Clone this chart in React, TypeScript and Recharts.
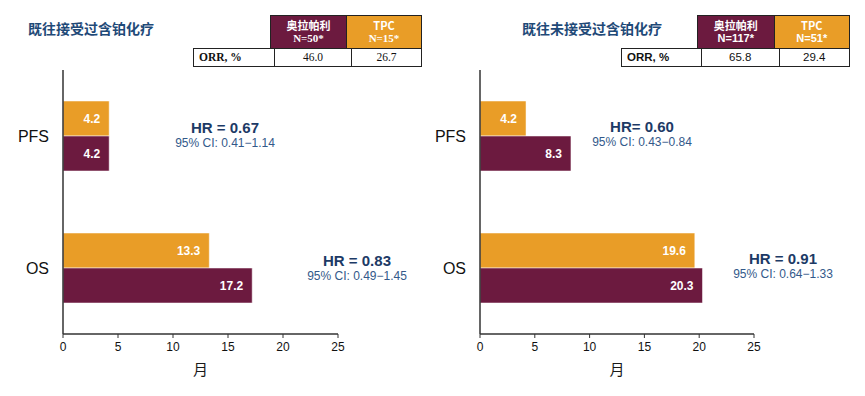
import { BarChart, Bar, XAxis, YAxis, LabelList } from 'recharts'

const categories = ['PFS', 'OS']
const xTicks = [0, 5, 10, 15, 20, 25]

// 既往接受过含铂化疗
const leftTpc = [4.2, 13.3]
const leftOla = [4.2, 17.2]
const leftHr = ['HR = 0.67', 'HR = 0.83']
const leftCi = ['95% CI: 0.41\u22121.14', '95% CI: 0.49\u22121.45']
const leftN = ['N=50*', 'N=15*']
const leftOrr = ['46.0', '26.7']

// 既往未接受过含铂化疗
const rightTpc = [4.2, 19.6]
const rightOla = [8.3, 20.3]
const rightHr = ['HR= 0.60', 'HR = 0.91']
const rightCi = ['95% CI: 0.43\u22120.84', '95% CI: 0.64\u22121.33']
const rightN = ['N=117*', 'N=51*']
const rightOrr = ['65.8', '29.4']

const arms = ['奥拉帕利', 'TPC']
const titles = ['既往接受过含铂化疗', '既往未接受过含铂化疗']

const ORANGE = '#E99D27'
const MAROON = '#6C1A3F'
const NAVY = '#1C3A66'
const CI_BLUE = '#33598A'
const SANS = '"Liberation Sans", Arial, sans-serif'
const SERIF = '"Liberation Serif", "Times New Roman", serif'
const CJK = '"Noto Sans CJK SC", sans-serif'

function toRows(tpc: number[], ola: number[]) {
  return categories.map((name, i) => ({ name, tpc: tpc[i], ola: ola[i] }))
}

function Panel({ left, width, axisW, marginRight, tpc, ola }: {
  left: number; width: number; axisW: number; marginRight: number; tpc: number[]; ola: number[]
}) {
  return (
    <div style={{ position: 'absolute', left, top: 0 }}>
      <BarChart
        width={width}
        height={396}
        layout="vertical"
        data={toRows(tpc, ola)}
        margin={{ top: 70, right: marginRight, bottom: 32, left: 0 }}
        barSize={35}
        barGap={0}
      >
        <XAxis
          type="number"
          domain={[0, 25]}
          ticks={xTicks}
          height={30}
          axisLine={{ stroke: '#333', strokeWidth: 1.5 }}
          tickLine={{ stroke: '#333' }}
          tickSize={4}
          tickMargin={4}
          tick={{ fontSize: 12, fill: '#111', fontFamily: SANS }}
          label={{ value: '月', position: 'bottom', offset: 0, fontSize: 15, fill: '#1a1a1a', fontFamily: CJK }}
        />
        <YAxis
          type="category"
          dataKey="name"
          width={axisW}
          axisLine={{ stroke: '#333', strokeWidth: 1.5 }}
          tickLine={false}
          tickSize={0}
          tickMargin={14}
          tick={{ fontSize: 16, fill: '#111', fontFamily: SANS }}
        />
        <Bar dataKey="tpc" fill={ORANGE} stroke="#fff" strokeOpacity={0.5} isAnimationActive={false}>
          <LabelList dataKey="tpc" position="insideRight" offset={9} fill="#fff" fontSize={12} fontWeight="bold" fontFamily={SANS} formatter={(v: any) => Number(v).toFixed(1)} />
        </Bar>
        <Bar dataKey="ola" fill={MAROON} stroke="#fff" strokeOpacity={0.5} isAnimationActive={false}>
          <LabelList dataKey="ola" position="insideRight" offset={9} fill="#fff" fontSize={12} fontWeight="bold" fontFamily={SANS} formatter={(v: any) => Number(v).toFixed(1)} />
        </Bar>
      </BarChart>
    </div>
  )
}

function Hr({ x, y, hr, ci }: { x: number; y: number; hr: string; ci: string }) {
  return (
    <div style={{ position: 'absolute', left: x - 90, top: y, width: 180, textAlign: 'center', fontFamily: SANS, lineHeight: 1 }}>
      <div style={{ fontSize: 15, fontWeight: 'bold', color: NAVY }}>{hr}</div>
      <div style={{ fontSize: 12, color: CI_BLUE, marginTop: 2 }}>{ci}</div>
    </div>
  )
}

function OrrTable({ x, font, labelW, cellW, n, orr }: {
  x: number; font: string; labelW: number; cellW: number; n: string[]; orr: string[]
}) {
  const border = '1.5px solid #222'
  const head = (bg: string, i: number) => (
    <div style={{ position: 'absolute', left: labelW + i * cellW, top: 0, width: cellW, height: 33, background: bg, color: '#fff', fontWeight: 'bold', fontSize: 11, textAlign: 'center', lineHeight: '13px', paddingTop: 3, boxSizing: 'border-box', border, borderRight: i === 0 ? 'none' : border, borderBottom: 'none' }}>
      <div style={{ fontFamily: CJK }}>{arms[i]}</div>
      <div style={{ fontFamily: font }}>{n[i]}</div>
    </div>
  )
  return (
    <div style={{ position: 'absolute', left: x, top: 15, fontFamily: font }}>
      {head(MAROON, 0)}
      {head(ORANGE, 1)}
      <div style={{ position: 'absolute', left: 0, top: 33, width: labelW + 2 * cellW, height: 19, border, boxSizing: 'border-box', display: 'flex', fontSize: 11.5, lineHeight: '16px', color: '#111', background: '#fff' }}>
        <div style={{ width: labelW - 2, paddingLeft: 5, fontWeight: 'bold', borderRight: '1px solid #222' }}>ORR, %</div>
        <div style={{ width: cellW, textAlign: 'center', borderRight: '1px solid #222' }}>{orr[0]}</div>
        <div style={{ flex: 1, textAlign: 'center' }}>{orr[1]}</div>
      </div>
    </div>
  )
}

export default function App() {
  return (
    <div style={{ position: 'absolute', left: 0, top: 0, width: 865, height: 396, background: '#fff', overflow: 'hidden' }}>
      <div style={{ position: 'absolute', left: 28, top: 18, fontFamily: CJK, fontSize: 14, fontWeight: 600, color: '#1F4A78' }}>{titles[0]}</div>
      <div style={{ position: 'absolute', left: 522, top: 18, fontFamily: CJK, fontSize: 14, fontWeight: 600, color: '#1F4A78' }}>{titles[1]}</div>

      <OrrTable x={193} font={SERIF} labelW={77} cellW={76} n={leftN} orr={leftOrr} />
      <OrrTable x={621} font={SANS} labelW={76} cellW={76.5} n={rightN} orr={rightOrr} />

      <Panel left={0} width={430} axisW={63} marginRight={92} tpc={leftTpc} ola={leftOla} />
      <Panel left={430} width={435} axisW={50} marginRight={111} tpc={rightTpc} ola={rightOla} />

      <Hr x={225} y={120} hr={leftHr[0]} ci={leftCi[0]} />
      <Hr x={357} y={253} hr={leftHr[1]} ci={leftCi[1]} />
      <Hr x={642} y={119} hr={rightHr[0]} ci={rightCi[0]} />
      <Hr x={783} y={251} hr={rightHr[1]} ci={rightCi[1]} />
    </div>
  )
}
